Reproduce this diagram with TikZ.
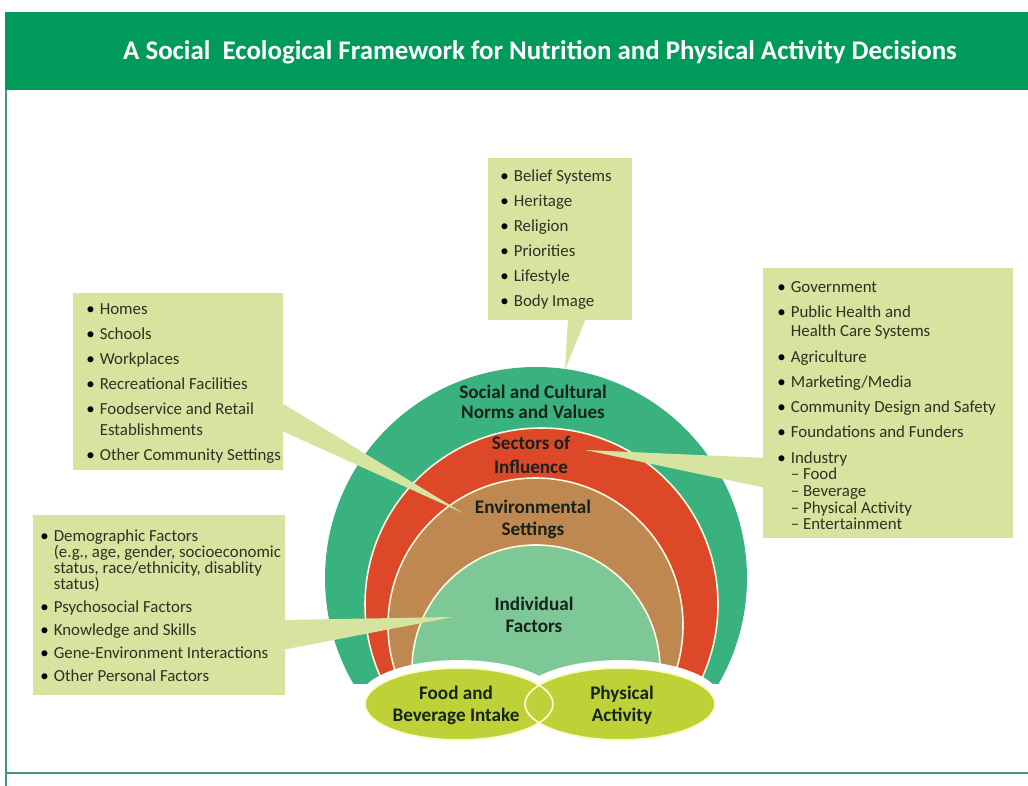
\documentclass[tikz,border=0pt]{standalone}
\usepackage{fontspec}
\setmainfont{Carlito}
\usepackage{tikz}

\definecolor{titlegreen}{RGB}{0,155,90}
\definecolor{frameline}{RGB}{70,150,125}
\definecolor{outerring}{RGB}{58,178,128}
\definecolor{redring}{RGB}{220,72,40}
\definecolor{brownring}{RGB}{190,136,80}
\definecolor{innerring}{RGB}{126,199,150}
\definecolor{ringline}{RGB}{255,250,225}
\definecolor{ellfill}{RGB}{190,210,55}
\definecolor{ellline}{RGB}{250,250,205}
\definecolor{boxfill}{RGB}{214,228,160}
\definecolor{boxtext}{RGB}{45,50,35}
\definecolor{lbltext}{RGB}{22,35,28}

\newcommand{\bul}{\makebox[0.8em][l]{\textcolor{black}{\textbullet}}}
\newcommand{\ind}{\hspace*{0.8em}}

\begin{document}
\begin{tikzpicture}[x=0.02cm,y=-0.02cm,
    ring/.style={draw=ringline,line width=0.9pt},
    listbox/.style={anchor=north west,align=left,inner sep=0pt,
      text=boxtext,font=\fontsize{9.6}{14.3}\selectfont},
    lbl/.style={align=center,text=lbltext,font=\bfseries\fontsize{10.9}{12.5}\selectfont},
    tail/.style={fill=boxfill}]

  \useasboundingbox (0,0) rectangle (1028,786);
  \fill[white] (0,0) rectangle (1028,786);

  % title bar and frame
  \fill[titlegreen] (5,12) rectangle (1028,90);
  \node[text=white,font=\bfseries\fontsize{15.3}{18}\selectfont] (title) at (540,52)
    {A Social\ \ Ecological Framework for Nutrition and Physical Activity Decisions};
  \draw[frameline,line width=1pt] (6,90) -- (6,786);
  \draw[frameline,line width=1.3pt] (6,773) -- (1028,773);

  % nested rings
  \begin{scope}
    \clip (0,0) rectangle (1028,684);
    \fill[outerring] (536,578) circle [radius=211];
    \filldraw[fill=redring,ring] (541.5,604.5) circle [radius=176.5];
    \filldraw[fill=brownring,ring] (535.5,625.5) circle [radius=147.5];
    \filldraw[fill=innerring,ring] (536,669) circle [radius=124];
  \end{scope}

  % the two behaviours
  \draw[white,line width=9pt] (459,704) ellipse [x radius=94,y radius=36]
    (620,704) ellipse [x radius=95,y radius=36];
  \fill[ellfill] (459,704) ellipse [x radius=94,y radius=36];
  \fill[ellfill] (620,704) ellipse [x radius=95,y radius=36];
  \draw[ellline,line width=1pt] (459,704) ellipse [x radius=94,y radius=36]
    (620,704) ellipse [x radius=95,y radius=36];

  % callout tails
  \coordinate (culttip) at (565,370);
  \coordinate (setttip) at (463,513);
  \coordinate (secttip) at (585,450);
  \coordinate (perstip) at (453,617);
  \fill[tail] (568,318) -- (culttip) -- (586,318) -- cycle;
  \fill[tail] (280,402) -- (setttip) -- (280,430) -- cycle;
  \fill[tail] (766,458) -- (secttip) -- (766,488) -- cycle;
  \fill[tail] (282,620) -- (perstip) -- (282,650) -- cycle;

  % callout boxes
  \fill[boxfill] (488,158) rectangle (632,320);
  \fill[boxfill] (73,293) rectangle (283,470);
  \fill[boxfill] (763,268) rectangle (1013,538);
  \fill[boxfill] (33,515) rectangle (285,695);

  \node[listbox] (cult) at (500,169)
    {\bul Belief Systems\\ \bul Heritage\\ \bul Religion\\ \bul Priorities\\
     \bul Lifestyle\\ \bul Body Image};
  \node[listbox] (sett) at (86,303)
    {\bul Homes\\ \bul Schools\\ \bul Workplaces\\ \bul Recreational Facilities\\
     \bul Foodservice and Retail\\[-2.3pt] \ind Establishments\\
     \bul Other Community Settings};
  \node[listbox] (sect) at (777,281)
    {\bul Government\\ \bul Public Health and\\[-3.2pt] \ind Health Care Systems\\
     \bul Agriculture\\ \bul Marketing/Media\\ \bul Community Design and Safety\\
     \bul Foundations and Funders\\[0.5pt] \bul Industry\\[-5pt]
     \ind -- Food\\[-4.8pt] \ind -- Beverage\\[-4.8pt] \ind -- Physical Activity\\[-4.8pt]
     \ind -- Entertainment};
  \node[listbox] (pers) at (40,529)
    {\bul Demographic Factors\\[-5.2pt] \ind (e.g., age, gender, socioeconomic\\[-5.2pt]
     \ind status, race/ethnicity, disablity\\[-5.2pt] \ind status)\\[-1.1pt]
     \bul Psychosocial Factors\\[-1.1pt] \bul Knowledge and Skills\\[-1.1pt]
     \bul Gene-Environment Interactions\\[-1.1pt] \bul Other Personal Factors};

  % ring labels
  \node[lbl] (socl) at (533,402) {Social and Cultural\\[-1.2pt]Norms and Values};
  \node[lbl] (infl) at (531,455) {Sectors of\\[1.5pt]Influence};
  \node[lbl] (envr) at (533,519) {Environmental\\Settings};
  \node[lbl] (indv) at (534,615) {Individual\\Factors};
  \node[lbl] (food) at (456,705) {Food and\\Beverage Intake};
  \node[lbl] (phys) at (622,705) {Physical\\Activity};
\end{tikzpicture}
\end{document}
